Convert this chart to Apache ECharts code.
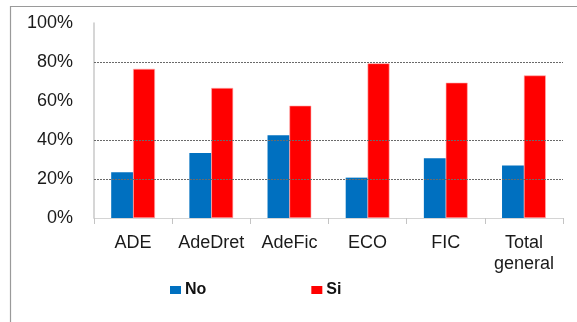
<!DOCTYPE html>
<html>
<head>
<meta charset="utf-8">
<script src="https://cdn.jsdelivr.net/npm/echarts@6/dist/echarts.min.js"></script>
<style>
  html, body { margin: 0; padding: 0; background: #fff; }
  #chart { width: 577px; height: 322px; }
</style>
</head>
<body>
<div id="chart"></div>
<script>
// Share of answers per degree
const categories = ['ADE', 'AdeDret', 'AdeFic', 'ECO', 'FIC', 'Total\ngeneral'];
const noValues = [23.5, 33.3, 42.4, 20.7, 30.6, 26.9];
const siValues = [76.5, 66.7, 57.6, 79.3, 69.4, 73.1];
const yTicks = [0, 20, 40, 60, 80, 100];
const guideLevels = [20, 40, 80];

const FONT = '"Liberation Sans", Arial, sans-serif';
const chart = echarts.init(document.getElementById('chart'), null, { renderer: 'canvas' });

chart.setOption({
  animation: false,
  backgroundColor: '#fff',
  textStyle: { fontFamily: FONT },
  graphic: [{
    type: 'rect',
    silent: true,
    shape: { x: 10.5, y: 6.5, width: 700, height: 400 },
    style: { fill: 'none', stroke: '#9a9a9a', lineWidth: 1.2 }
  }],
  grid: { left: 94, right: 14, top: 23, bottom: 104, containLabel: false },
  legend: {
    data: ['No', 'Si'],
    left: 165,
    top: 277,
    itemWidth: 11,
    itemHeight: 8,
    itemGap: 105,
    icon: 'rect',
    itemStyle: { borderWidth: 0 },
    textStyle: { fontFamily: FONT, fontSize: 16, fontWeight: 'bold', color: '#111', padding: [0, 0, 0, -1] }
  },
  xAxis: {
    type: 'category',
    data: categories,
    axisLine: { show: true, lineStyle: { color: '#d4d4d4', width: 1 } },
    axisTick: { show: true, length: 6, lineStyle: { color: '#c4c4c4' } },
    axisLabel: { color: '#1a1a1a', fontSize: 18, fontFamily: FONT, margin: 15, lineHeight: 21, interval: 0 },
    splitLine: { show: false }
  },
  yAxis: {
    type: 'value',
    min: yTicks[0],
    max: yTicks[yTicks.length - 1],
    interval: yTicks[1] - yTicks[0],
    axisLine: { show: true, lineStyle: { color: '#c8c8c8', width: 1.5 } },
    axisTick: { show: false },
    splitLine: { show: false },
    axisLabel: { formatter: '{value}%', color: '#1a1a1a', fontSize: 18, fontFamily: FONT, margin: 21 }
  },
  series: [
    {
      name: 'No',
      type: 'bar',
      data: noValues,
      barWidth: '28%',
      barGap: '0%',
      itemStyle: { color: '#0070C0' },
      markLine: {
        silent: true,
        symbol: 'none',
        label: { show: false },
        lineStyle: { color: '#6a6a6a', type: [2, 1], width: 1 },
        data: guideLevels.map(v => ({ yAxis: v }))
      },
      z: 3
    },
    {
      name: 'Si',
      type: 'bar',
      data: siValues,
      barWidth: '28%',
      barGap: '0%',
      itemStyle: { color: '#FF0000', borderColor: '#ffb0b0', borderWidth: 0.6 },
      z: 3
    }
  ]
});
</script>
</body>
</html>
